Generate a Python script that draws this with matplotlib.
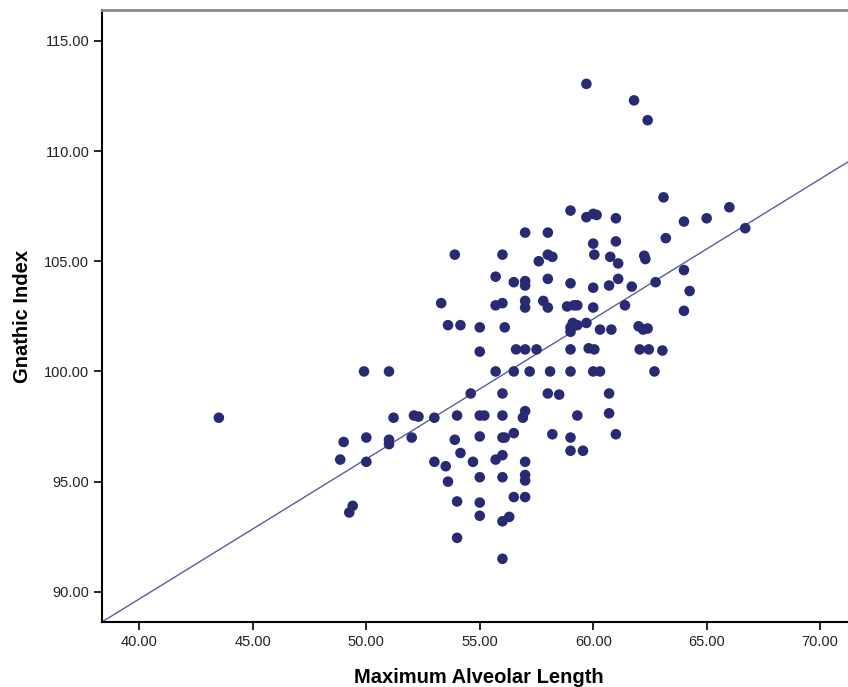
import matplotlib
matplotlib.use("Agg")
import matplotlib.pyplot as plt
import numpy as np

plt.rcParams['font.family'] = ['Liberation Sans', 'DejaVu Sans']

# Maximum Alveolar Length (x) and Gnathic Index (y)
alveolar_length = [
    43.5, 49.9, 51.0, 51.2, 52.1, 52.3, 53.0, 49.0, 50.0, 51.0,
    51.0, 52.0, 48.85, 50.0, 53.0, 53.5, 53.6, 49.4, 49.25, 53.9,
    54.0, 55.0, 55.2, 56.0, 56.9, 57.0, 59.3, 60.7, 55.0, 56.0,
    56.1, 56.5, 58.2, 59.0, 61.0, 54.15, 54.7, 55.7, 56.0, 57.0,
    59.0, 59.55, 55.0, 56.0, 57.0, 57.0, 54.0, 55.0, 56.5, 57.0,
    55.0, 56.0, 56.3, 54.0, 56.0, 59.7, 61.8, 62.4, 63.1, 59.0,
    59.7, 60.0, 60.15, 61.0, 64.0, 65.0, 66.0, 66.7, 57.0, 58.0,
    60.0, 61.0, 63.2, 53.9, 56.0, 58.0, 58.2, 57.6, 60.05, 60.75,
    61.1, 62.25, 62.3, 55.7, 56.5, 57.0, 57.0, 58.0, 59.0, 60.0,
    60.7, 61.1, 61.7, 62.75, 64.0, 64.25, 64.0, 53.3, 55.7, 56.0,
    57.0, 57.0, 57.8, 58.0, 58.85, 59.15, 59.3, 60.0, 61.4, 53.6,
    54.15, 55.0, 56.1, 59.0, 59.1, 59.3, 59.0, 59.7, 60.3, 60.8,
    62.0, 62.2, 62.4, 55.0, 56.6, 57.0, 57.5, 59.0, 59.8, 60.05,
    62.05, 62.45, 63.05, 55.7, 56.5, 57.2, 58.1, 59.0, 60.0, 60.3,
    62.7, 54.6, 56.0, 58.0, 58.5, 60.7,
]
gnathic_index = [
    97.9, 100.0, 100.0, 97.9, 98.0, 97.95, 97.9, 96.8, 97.0, 96.9,
    96.7, 97.0, 96.0, 95.9, 95.9, 95.7, 95.0, 93.9, 93.6, 96.9,
    98.0, 98.0, 98.0, 98.0, 97.9, 98.2, 98.0, 98.1, 97.05, 97.0,
    97.0, 97.2, 97.15, 97.0, 97.15, 96.3, 95.9, 96.0, 96.2, 95.9,
    96.4, 96.4, 95.2, 95.2, 95.3, 95.05, 94.1, 94.05, 94.3, 94.3,
    93.45, 93.2, 93.4, 92.45, 91.5, 113.05, 112.3, 111.4, 107.9, 107.3,
    107.0, 107.15, 107.1, 106.95, 106.8, 106.95, 107.45, 106.5, 106.3, 106.3,
    105.8, 105.9, 106.05, 105.3, 105.3, 105.3, 105.2, 105.0, 105.3, 105.2,
    104.9, 105.25, 105.1, 104.3, 104.05, 104.1, 103.9, 104.2, 104.0, 103.8,
    103.9, 104.2, 103.85, 104.05, 104.6, 103.65, 102.75, 103.1, 103.0, 103.1,
    103.2, 102.9, 103.2, 102.9, 102.95, 103.0, 103.0, 102.9, 103.0, 102.1,
    102.1, 102.0, 102.0, 102.0, 102.2, 102.1, 101.8, 102.2, 101.9, 101.9,
    102.05, 101.9, 101.95, 100.9, 101.0, 101.0, 101.0, 101.0, 101.05, 101.0,
    101.0, 101.0, 100.95, 100.0, 100.0, 100.0, 100.0, 100.0, 100.0, 100.0,
    100.0, 99.0, 99.0, 99.0, 98.95, 99.0,
]

# fit line (total), as drawn in the picture
FIT_SLOPE = 0.635
FIT_INTERCEPT = 64.28

x_ticks = [40, 45, 50, 55, 60, 65, 70]
y_ticks = [90, 95, 100, 105, 110, 115]
X_LIM = (38.34, 71.23)
Y_LIM = (88.63, 116.4)

DOT_COLOR = '#282a73'
LINE_COLOR = '#5a5ca3'

fig = plt.figure(figsize=(8.48, 6.87), dpi=100)
ax = fig.add_axes([0.12, 0.0946, 0.88, 0.8908])

ax.scatter(alveolar_length, gnathic_index, s=58, color=DOT_COLOR,
           edgecolors='none', zorder=3)

xs = np.array(X_LIM)
ax.plot(xs, FIT_INTERCEPT + FIT_SLOPE * xs, color=LINE_COLOR, lw=1.0, zorder=2)

ax.set_xlim(*X_LIM)
ax.set_ylim(*Y_LIM)
ax.set_xticks(x_ticks)
ax.set_yticks(y_ticks)
ax.set_xticklabels([f"{v:.2f}" for v in x_ticks])
ax.set_yticklabels([f"{v:.2f}" for v in y_ticks])
ax.tick_params(axis='both', direction='out', length=6, width=1.2,
               colors='black', labelsize=10.5, labelcolor='#222222', pad=3)

for side in ['left', 'bottom']:
    ax.spines[side].set_linewidth(1.5)
    ax.spines[side].set_color('black')
ax.spines['top'].set_color('#8a8a8a')
ax.spines['top'].set_linewidth(2.0)
ax.spines['right'].set_visible(False)

ax.set_xlabel('Maximum Alveolar Length', fontsize=14.5, fontweight='bold',
              labelpad=12)
ax.xaxis.set_label_coords(0.505, -0.075)
ax.set_ylabel('Gnathic Index', fontsize=14.5, fontweight='bold', labelpad=9)

plt.savefig('out.png', dpi=100)
plt.close()
